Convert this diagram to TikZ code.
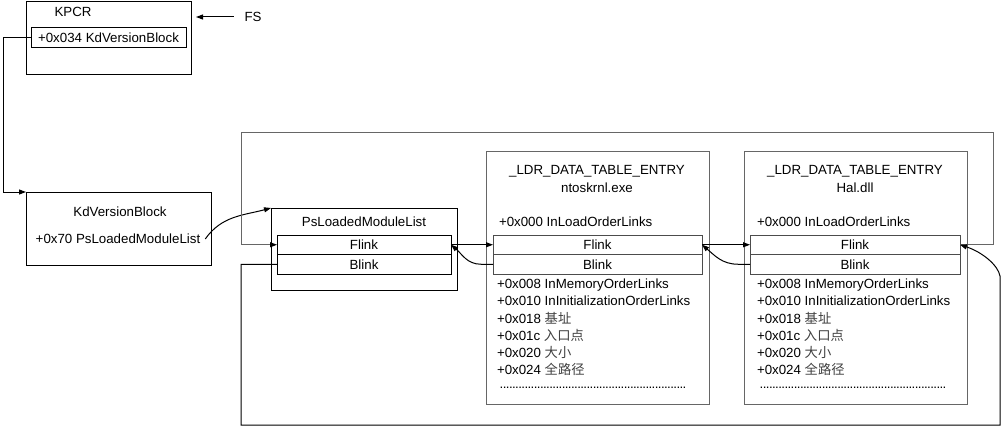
\documentclass[tikz,border=0pt]{standalone}
\usepackage{fontspec}
\setmainfont{Liberation Sans}
\newfontfamily\cjk{Noto Sans CJK SC}
\usetikzlibrary{arrows.meta}
\newcommand{\zh}[1]{{\cjk\color{black!75}#1}}
\newcommand{\dotrow}{\makebox[188pt]{\leaders\hbox to 3.1pt{\hss.\hss}\hfill}}
\begin{document}
\begin{tikzpicture}[x=1pt,y=-1pt,line width=1pt,font=\fontsize{13.3}{16}\selectfont]
                \tikzstyle{every node}+=[inner sep=0pt, outer sep=0pt]
                \tikzstyle{box}=[draw, anchor=north west]
                \tikzstyle{gbox}=[draw=black!60, anchor=north west]
                \tikzstyle{arr}=[-{Triangle[length=7pt,width=5pt,color=black]}]
                \useasboundingbox (0,0) rectangle (1004,428);
                % KPCR
                \node[box, minimum width=165, minimum height=73] (kpcr) at (26,2) {};
                \node (kpcrT) at (73,12) {KPCR};
                \node[box, minimum width=155, minimum height=20] (kdvF) at (31,28) {+0x034 KdVersionBlock};
                \node (fs) at (253,17) {FS};
                \coordinate (fsTip) at (196,17);
                \draw [arr] ([xshift=-11]fs.west) -- (fsTip);
                % KdVersionBlock
                \node[box, minimum width=185, minimum height=73] (kdv) at (26,192) {};
                \node (kdvT) at (120,212) {KdVersionBlock};
                \node (kdvP) at (118,239) {+0x70 PsLoadedModuleList};
                % PsLoadedModuleList
                \node[box, minimum width=186, minimum height=82] (psl) at (271,208) {};
                \node (pslT) at (364,222) {PsLoadedModuleList};
                \node[box, minimum width=174, minimum height=19.5] (pslFl) at (277,235) {Flink};
                \node[box, minimum width=174, minimum height=19.5] (pslBl) at (277,254.5) {Blink};
                % ntoskrnl.exe
                \node[gbox, minimum width=223, minimum height=253] (nt) at (486,151) {};
                \node (ntT) at (597,171) {\_LDR\_DATA\_TABLE\_ENTRY};
                \node (ntN) at (597,188) {ntoskrnl.exe};
                \node[anchor=west] (nt0) at (499,222) {+0x000 InLoadOrderLinks};
                \node[box, draw=black!70, minimum width=209, minimum height=19.5] (ntFl) at (493,235) {Flink};
                \node[box, draw=black!70, minimum width=209, minimum height=19.5] (ntBl) at (493,254.5) {Blink};
                \node[anchor=west] (nt8) at (497,285) {+0x008 InMemoryOrderLinks};
                \node[anchor=west] (nt10) at (497,301) {+0x010 InInitializationOrderLinks};
                \node[anchor=west] (nt18) at (497,318) {+0x018 \zh{基址}};
                \node[anchor=west] (nt1c) at (497,335) {+0x01c \zh{入口点}};
                \node[anchor=west] (nt20) at (497,352) {+0x020 \zh{大小}};
                \node[anchor=west] (nt24) at (497,369) {+0x024 \zh{全路径}};
                \node[anchor=west] (ntD) at (500,388) {\dotrow};
                % Hal.dll
                \node[gbox, minimum width=223, minimum height=253] (hal) at (744,151) {};
                \node (halT) at (855,171) {\_LDR\_DATA\_TABLE\_ENTRY};
                \node (halN) at (855,188) {Hal.dll};
                \node[anchor=west] (hal0) at (757,222) {+0x000 InLoadOrderLinks};
                \node[box, draw=black!70, minimum width=210, minimum height=19.5] (halFl) at (750,235) {Flink};
                \node[box, draw=black!70, minimum width=210, minimum height=19.5] (halBl) at (750,254.5) {Blink};
                \node[anchor=west] (hal8) at (757,285) {+0x008 InMemoryOrderLinks};
                \node[anchor=west] (hal10) at (757,301) {+0x010 InInitializationOrderLinks};
                \node[anchor=west] (hal18) at (757,318) {+0x018 \zh{基址}};
                \node[anchor=west] (hal1c) at (757,335) {+0x01c \zh{入口点}};
                \node[anchor=west] (hal20) at (757,352) {+0x020 \zh{大小}};
                \node[anchor=west] (hal24) at (757,369) {+0x024 \zh{全路径}};
                \node[anchor=west] (halD) at (760,388) {\dotrow};
                % links
                \draw [arr] (kdvF.west) -- ++(-28,0) |- (kdv.north west);
                \draw [arr] ([xshift=5]kdvP.east) to[out=55,in=195] (psl.north west);
                \draw [arr] (pslFl.east) -- (ntFl.west);
                \draw [arr] (ntBl.west) -- ++(-12,0) to[out=180,in=-40] (pslFl.east);
                \draw [arr] (ntFl.east) -- (halFl.west);
                \draw [arr] (halBl.west) -- ++(-12,0) to[out=180,in=-40] (ntFl.east);
                \draw [arr, black!60] (halFl.east) -- ++(33,0) |- (241,132) |- (pslFl.west);
                \draw [arr] (pslBl.west) -- ++(-36,0) |- (1000,425) -- (1000,276) .. controls (998,265) and (982,252) .. (halFl.east);
            \end{tikzpicture}
\end{document}
